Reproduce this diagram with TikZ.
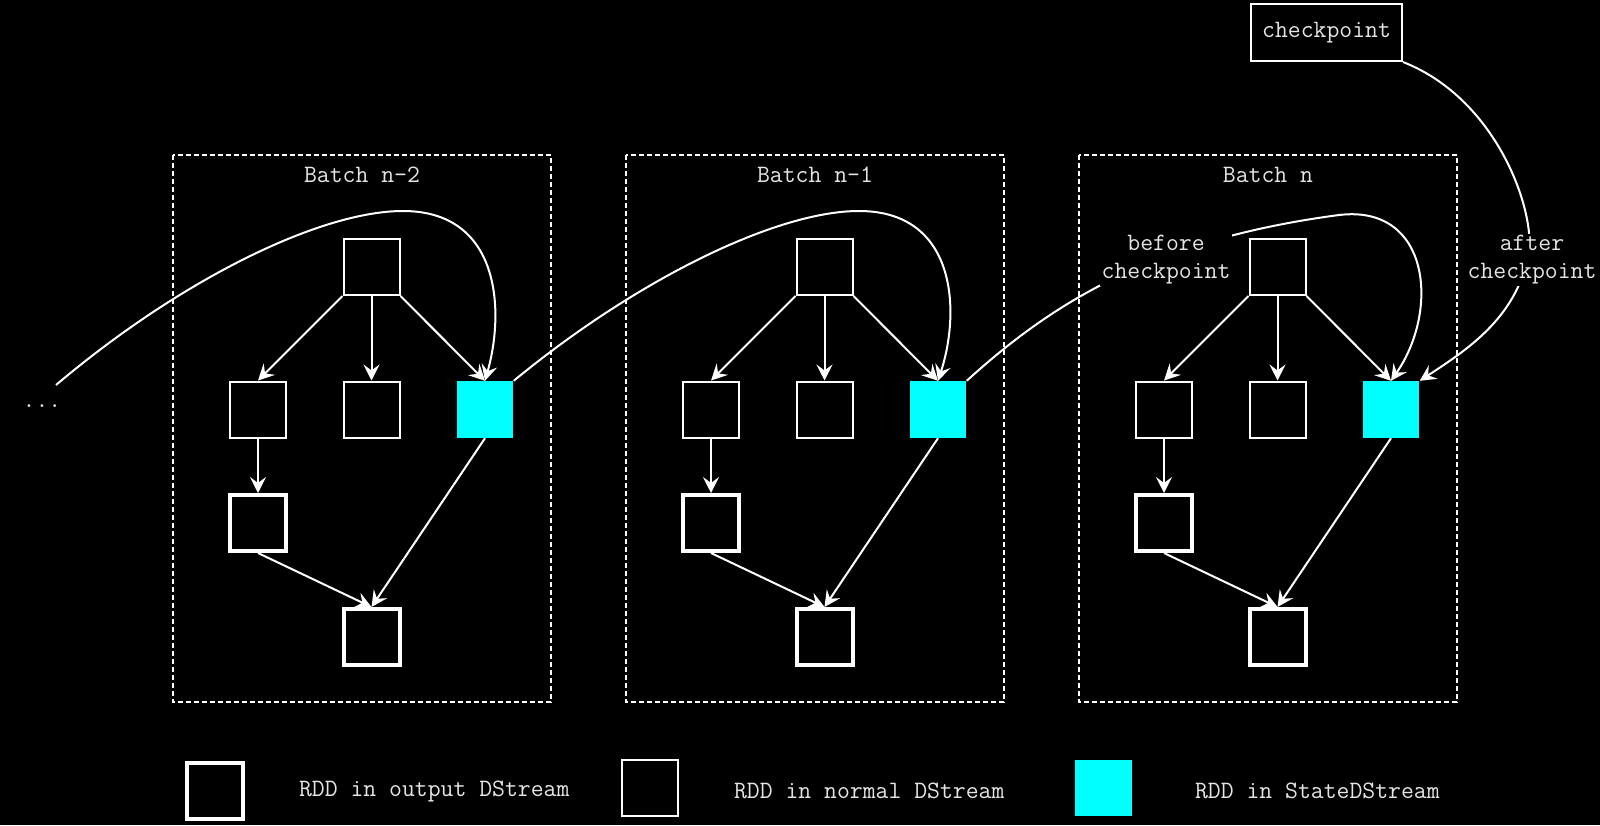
\documentclass[tikz,border=0pt]{standalone}
\usetikzlibrary{arrows.meta}
\definecolor{statecyan}{RGB}{0,255,255}

\begin{document}
\begin{tikzpicture}[x=0.5pt,y=-0.5pt,
	every node/.style={font=\ttfamily\fontsize{12.5}{14}\selectfont, text=white!90!black},
	rdd/.style={draw=white, line width=1pt, minimum size=28pt, inner sep=0pt},
	outrdd/.style={rdd, line width=2pt},
	staterdd/.style={fill=statecyan, minimum size=28.3pt, inner sep=0pt},
	batchbox/.style={draw=white, line width=1pt, dash pattern=on 2.5pt off 1.5pt},
	lab/.style={fill=black, align=center, inner sep=1pt},
	link/.style={draw=white, line width=1pt, -{Stealth[length=8pt,width=8pt,inset=3pt]}}]

	\fill[black] (0,0) rectangle (1600,825);
	\useasboundingbox (0,0) rectangle (1600,825);

	% the three batches
	\foreach \i/\bname in {0/n-2,1/n-1,2/n}{
		\begin{scope}[shift={(453*\i,0)}]
			\draw[batchbox] (173,155) rectangle (551,702);
			\node (title\i) at (362,175) {Batch \bname};
			\node[rdd] (top\i) at (371.5,267) {};
			\node[rdd] (left\i) at (258,409.5) {};
			\node[rdd] (mid\i) at (371.5,409.5) {};
			\node[staterdd] (state\i) at (485,409.5) {};
			\node[outrdd] (outa\i) at (258,523) {};
			\node[outrdd] (outb\i) at (371.5,637) {};
			\draw[link] (top\i.south west) -- (left\i.north);
			\draw[link] (top\i) -- (mid\i);
			\draw[link] (top\i.south east) -- (state\i.north);
			\draw[link] (left\i) -- (outa\i);
			\draw[link] (outa\i.south) -- (outb\i.north);
			\draw[link] (state\i.south) -- (outb\i.north);
		\end{scope}
	}

	\node (dots) at (42,406) {...};
	\coordinate (dotsend) at (56,385);
	\node[draw=white, line width=1pt, minimum width=75.5pt, minimum height=28.5pt] (ckpt) at (1326.5,32.5) {checkpoint};

	% state carried from batch to batch
	\draw[link] (dotsend) .. controls (180,280) and (320,211) .. (403,211) .. controls (500,211) and (505,310) .. (state0.north);
	\draw[link] (state0.north east) .. controls (636,280) and (776,211) .. (859,211) .. controls (956,211) and (961,310) .. (state1.north);
	\draw[link] (state1.north east) .. controls (1050,305) and (1150,240) .. (1339,215) .. controls (1430,204) and (1440,310) .. (state2.north);
	\node[lab] (before) at (1166,260) {before\\checkpoint};
	\draw[link] (ckpt.south east) .. controls (1500,100) and (1538,218) .. (1528,258) .. controls (1514,318) and (1470,348) .. (state2.north east);
	\node[lab] (after) at (1532,260) {after\\checkpoint};

	% legend
	\node[outrdd] (keyout) at (214.5,791) {};
	\node[anchor=west] (keyouttext) at (292,791) {RDD in output DStream};
	\node[rdd] (keynorm) at (649.5,788) {};
	\node[anchor=west] (keynormtext) at (727,791) {RDD in normal DStream};
	\node[staterdd] (keystate) at (1103.5,788) {};
	\node[anchor=west] (keystatetext) at (1188,791) {RDD in StateDStream};

\end{tikzpicture}
\end{document}
